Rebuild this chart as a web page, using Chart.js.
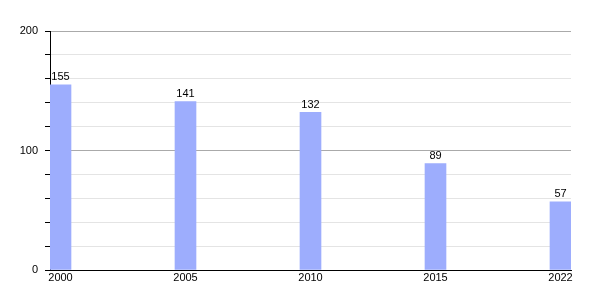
<!DOCTYPE html>
<html>
<head>
<meta charset="utf-8">
<script src="https://cdn.jsdelivr.net/npm/chart.js@4/dist/chart.umd.min.js"></script>
<style>
  html, body { margin: 0; padding: 0; background: #fff; }
  #wrap { width: 600px; height: 300px; }
</style>
</head>
<body>
<div id="wrap"><canvas id="myChart" width="600" height="300"></canvas></div>
<script>
// data
const years = ['2000', '2005', '2010', '2015', '2022'];
const values = [155, 141, 132, 89, 57];
const yTickLabels = [0, 100, 200];

// values printed above each bar
const barLabels = {
  id: 'barLabels',
  afterDatasetsDraw(chart) {
    const ctx = chart.ctx;
    const meta = chart.getDatasetMeta(0);
    ctx.save();
    ctx.font = '11px "Liberation Sans", Arial, sans-serif';
    ctx.fillStyle = '#000';
    ctx.textAlign = 'center';
    ctx.textBaseline = 'bottom';
    meta.data.forEach((bar, i) => {
      ctx.fillText(String(values[i]), bar.x, bar.y - 2);
    });
    ctx.restore();
  }
};

const ctx = document.getElementById('myChart').getContext('2d');
new Chart(ctx, {
  type: 'bar',
  data: {
    datasets: [{
      data: values.map((v, i) => ({ x: i, y: v })),
      backgroundColor: '#9dadfd',
      borderWidth: 0,
      barThickness: 21
    }]
  },
  options: {
    responsive: false,
    animation: false,
    layout: { padding: { top: 31, right: 29, left: 0, bottom: 0 } },
    plugins: {
      legend: { display: false },
      tooltip: { enabled: false }
    },
    scales: {
      x: {
        type: 'linear',
        offset: false,
        min: -0.084,
        max: 4.084,
        afterBuildTicks: function(scale) {
          scale.ticks = years.map((y, i) => ({ value: i }));
        },
        ticks: {
          autoSkip: false,
          maxRotation: 0,
          padding: 1,
          color: '#000',
          font: { family: '"Liberation Sans", Arial, sans-serif', size: 11 },
          callback: (v, i) => years[i]
        },
        grid: { display: false, drawTicks: false, tickLength: 0 },
        border: { color: '#000', width: 1 },
        afterFit: function(scale) { scale.height = 30; }
      },
      y: {
        min: 0,
        max: 200,
        ticks: {
          stepSize: 20,
          padding: 7,
          color: '#000',
          font: { family: '"Liberation Sans", Arial, sans-serif', size: 11 },
          callback: v => yTickLabels.includes(v) ? String(v) : ''
        },
        grid: {
          color: c => (c.tick && c.tick.value % 100 === 0) ? '#aaaaaa' : '#e4e4e4',
          tickColor: '#000',
          tickLength: 5
        },
        border: { color: '#000', width: 1 },
        afterFit: function(scale) { scale.width = 50; }
      }
    }
  },
  plugins: [barLabels]
});
</script>
</body>
</html>
